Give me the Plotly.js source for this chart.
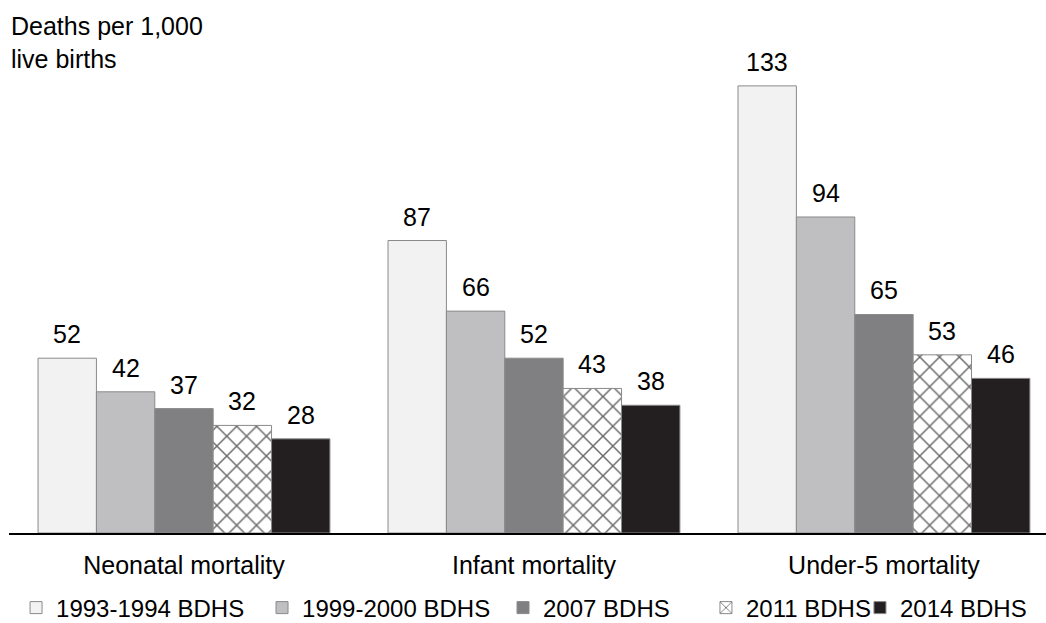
<!DOCTYPE html>
<html>
<head>
<meta charset="utf-8">
<script src="https://cdn.plot.ly/plotly-3.0.1.min.js"></script>
<style>
  html, body { margin: 0; padding: 0; background: #ffffff; }
  #chart { width: 1046px; height: 623px; }
</style>
</head>
<body>
<div id="chart"></div>
<script>
// ---- Data ----
var categories = ["Neonatal mortality", "Infant mortality", "Under-5 mortality"];
var seriesNames = ["1993-1994 BDHS", "1999-2000 BDHS", "2007 BDHS", "2011 BDHS", "2014 BDHS"];
var s1993 = [52, 87, 133];
var s1999 = [42, 66, 94];
var s2007 = [37, 52, 65];
var s2011 = [32, 43, 53];
var s2014 = [28, 38, 46];
var yAxisTitle = "Deaths per 1,000<br>live births";

// ---- Styles ----
var seriesValues = [s1993, s1999, s2007, s2011, s2014];
var fills = ["#f1f2f1", "#bfbfc2", "#808083", "#ffffff", "#231f20"];
var legendIds = ["legend", "legend2", "legend3", "legend4", "legend5"];
var legendX = [0.0068, 0.244, 0.4764, 0.6721, 0.8206];
var FONT = "Liberation Sans, Arial, Helvetica, sans-serif";
var FS = 25;
var LFS = 24;
var BARGAP = 0.166;

var traces = seriesValues.map(function (vals, i) {
  var t = {
    type: "bar",
    name: seriesNames[i],
    x: categories,
    y: vals,
    legend: legendIds[i],
    marker: {
      color: fills[i],
      line: { color: "#8a8a8a", width: 1 }
    },
    hoverinfo: "skip"
  };
  if (i === 3) {
    t.marker.pattern = {
      shape: "x",
      size: 14,
      solidity: 0.2,
      fgcolor: "#6a6a6a",
      bgcolor: "#ffffff",
      fillmode: "replace"
    };
  }
  return t;
});

// value labels positioned through the category axis
var nS = seriesValues.length;
var barW = (1 - BARGAP) / nS;
var annotations = [];
seriesValues.forEach(function (vals, i) {
  vals.forEach(function (v, j) {
    annotations.push({
      xref: "x", yref: "y",
      x: j + (i - (nS - 1) / 2) * barW,
      y: v,
      text: String(v),
      showarrow: false,
      xanchor: "center",
      yanchor: "bottom",
      yshift: 8,
      font: { family: FONT, size: FS, color: "#000000" }
    });
  });
});
annotations.push({
  xref: "paper", yref: "paper",
  x: 0.0, y: 1.106,
  xanchor: "left", yanchor: "top",
  align: "left",
  text: yAxisTitle,
  showarrow: false,
  font: { family: FONT, size: FS, color: "#000000" }
});

var layout = {
  width: 1046,
  height: 623,
  margin: { l: 9, r: 0, t: 60, b: 90, pad: 0, autoexpand: false },
  paper_bgcolor: "#ffffff",
  plot_bgcolor: "#ffffff",
  barmode: "group",
  bargap: BARGAP,
  bargroupgap: 0,
  font: { family: FONT, size: FS, color: "#000000" },
  xaxis: {
    type: "category",
    range: [-0.5, 2.463],
    showline: true,
    linecolor: "#000000",
    linewidth: 1.5,
    ticks: "",
    showgrid: false,
    zeroline: false,
    tickfont: { family: FONT, size: FS, color: "#000000" },
    ticklabelstandoff: 9,
    fixedrange: true
  },
  yaxis: {
    range: [0, 140.7],
    showline: false,
    showgrid: false,
    zeroline: false,
    showticklabels: false,
    ticks: "",
    fixedrange: true
  },
  showlegend: true,
  annotations: annotations,
  hovermode: false
};

legendIds.forEach(function (id, i) {
  layout[id] = {
    orientation: "h",
    x: legendX[i],
    xanchor: "left",
    y: -0.1586,
    yanchor: "middle",
    font: { family: FONT, size: LFS, color: "#000000" },
    bgcolor: "rgba(0,0,0,0)",
    borderwidth: 0,
    itemclick: false,
    itemdoubleclick: false
  };
});

Plotly.newPlot("chart", traces, layout, { displayModeBar: false, staticPlot: true });
</script>
</body>
</html>
